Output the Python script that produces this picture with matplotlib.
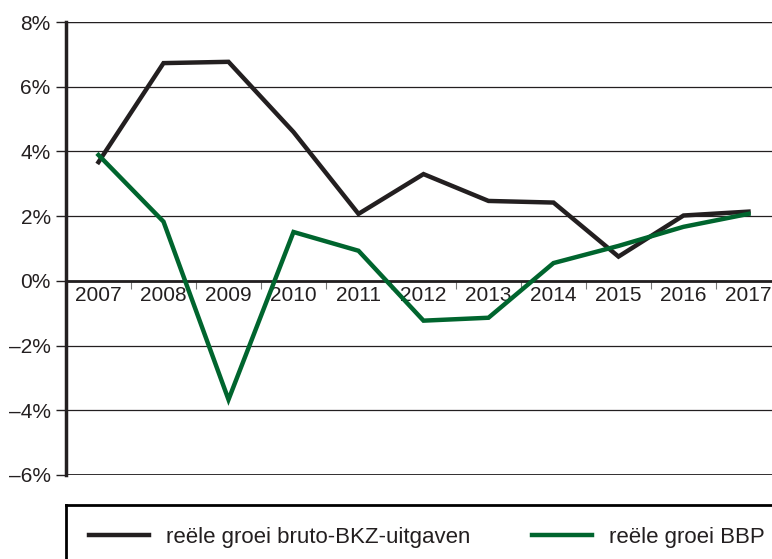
import matplotlib
matplotlib.use('Agg')
import matplotlib.pyplot as plt

plt.rcParams['font.family'] = ['Liberation Sans', 'DejaVu Sans']

jaren = ['2007', '2008', '2009', '2010', '2011', '2012', '2013', '2014', '2015', '2016', '2017']
bkz = [3.67, 6.73, 6.77, 4.6, 2.07, 3.3, 2.47, 2.42, 0.75, 2.02, 2.14]
bbp = [3.89, 1.83, -3.67, 1.51, 0.93, -1.23, -1.14, 0.55, 1.08, 1.67, 2.07]
yticks = [-6, -4, -2, 0, 2, 4, 6, 8]
ylabels = ['–6%', '–4%', '–2%', '0%', '2%', '4%', '6%', '8%']

zwart = '#231f20'
groen = '#00652e'

fig = plt.figure(figsize=(7.72, 5.59), dpi=100)
ax = fig.add_axes([66 / 772, 0.1503, 715 / 772, 0.8103])

x = list(range(len(jaren)))
l1, = ax.plot(x, bkz, color=zwart, lw=3.2, solid_joinstyle='miter', zorder=3)
l2, = ax.plot(x, bbp, color=groen, lw=3.2, solid_joinstyle='miter', zorder=4)

ax.set_xlim(-0.5, len(jaren) - 0.5)
ax.set_ylim(-6, 8)
ax.set_yticks(yticks)
ax.set_yticklabels(ylabels, fontsize=15, color=zwart)
ax.tick_params(axis='y', length=7, width=1, pad=4, color=zwart)

for y in yticks:
    ax.axhline(y, color=zwart, lw=0.9, zorder=1)
ax.axhline(8, color=zwart, lw=1.6, zorder=1)
ax.axhline(-6, color=zwart, lw=2, zorder=1)

# x-as op de nullijn
ax.spines['bottom'].set_position(('data', 0))
ax.spines['bottom'].set_linewidth(2)
ax.spines['bottom'].set_color(zwart)
ax.set_xticks(x)
ax.set_xticklabels(jaren, fontsize=15, color=zwart)
ax.set_xticks([i + 0.5 for i in x[:-1]], minor=True)
ax.tick_params(axis='x', which='major', length=0, pad=4)
ax.tick_params(axis='x', which='minor', length=6, width=0.8, color='#777777', direction='out')

ax.spines['top'].set_visible(False)
ax.spines['right'].set_visible(False)
ax.spines['left'].set_linewidth(2.5)
ax.spines['left'].set_color(zwart)

# legenda-kader
lax = fig.add_axes([66 / 772, -0.05, 715 / 772, 0.1466])
lax.set_xticks([])
lax.set_yticks([])
lax.spines['right'].set_visible(False)
lax.spines['bottom'].set_visible(False)
lax.spines['left'].set_linewidth(2)
lax.spines['top'].set_linewidth(2)
lax.patch.set_alpha(0)
lax.legend([l1, l2], ['reële groei bruto-BKZ-uitgaven', 'reële groei BBP'],
           ncol=2, frameon=False, fontsize=16, loc='upper left',
           bbox_to_anchor=(0.004, 0.975), handlelength=2.7, handletextpad=0.75,
           columnspacing=2.8, labelcolor=zwart)

fig.savefig('out.png', dpi=100)
